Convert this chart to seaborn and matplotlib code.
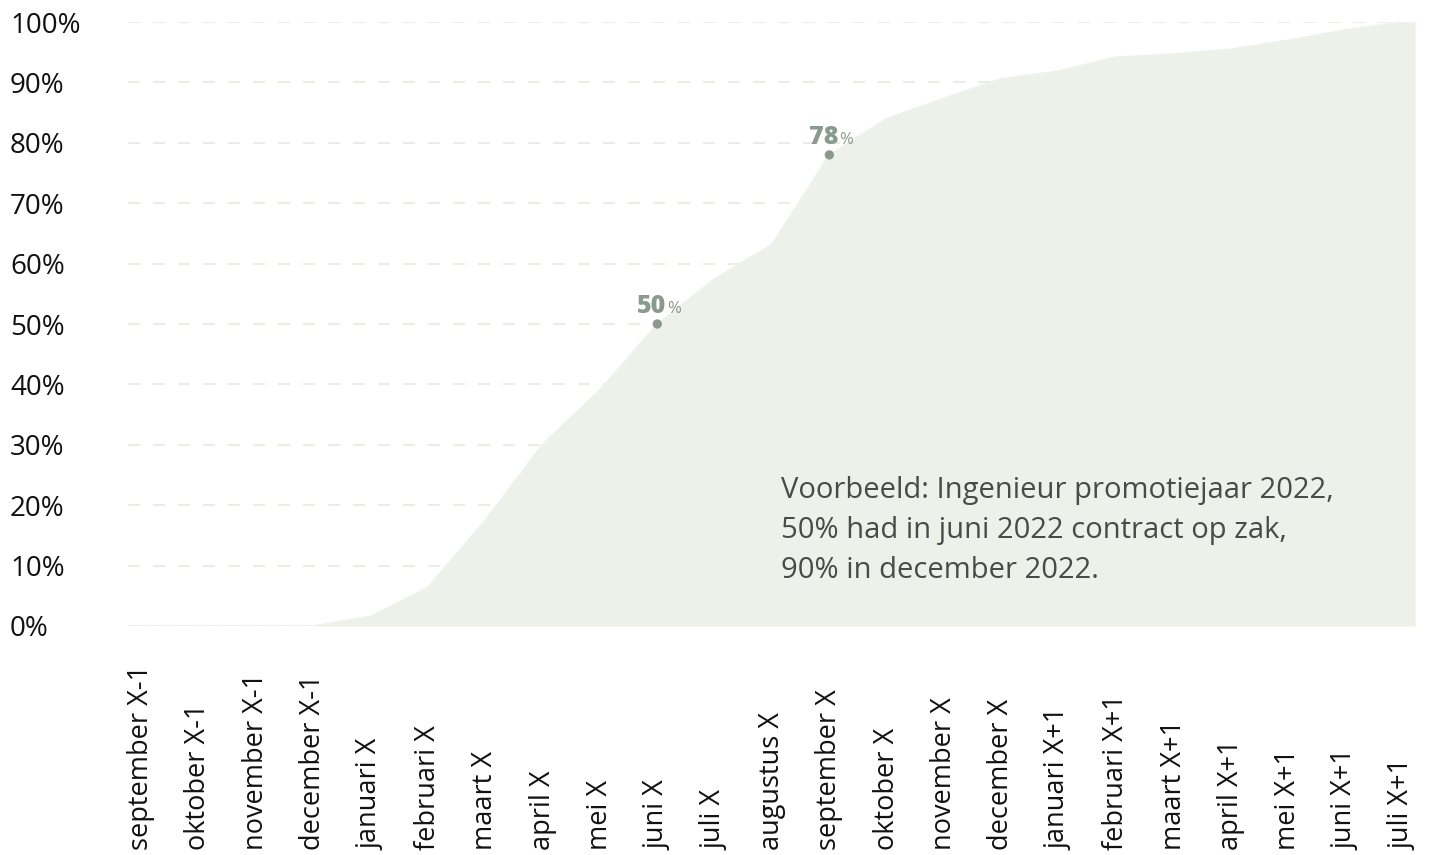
import numpy as np
import pandas as pd
import matplotlib
matplotlib.use("Agg")
import matplotlib.pyplot as plt
import seaborn as sns

months = ["september X-1", "oktober X-1", "november X-1", "december X-1",
          "januari X", "februari X", "maart X", "april X", "mei X", "juni X",
          "juli X", "augustus X", "september X", "oktober X", "november X",
          "december X", "januari X+1", "februari X+1", "maart X+1",
          "april X+1", "mei X+1", "juni X+1", "juli X+1"]
share = [0, 0, 0, 0, 1.6, 6.4, 17.5, 30.1, 39.1, 50, 57.5, 63.2, 78,
         84.0, 87.4, 90.6, 91.9, 94.2, 94.7, 95.5, 97.0, 98.7, 100]
yticks = [0, 10, 20, 30, 40, 50, 60, 70, 80, 90, 100]
ytick_labels = [f"{v}%" for v in yticks]
highlight_months = ["juni X", "september X"]
note = ("Voorbeeld: Ingenieur promotiejaar 2022,\n"
        "50% had in juni 2022 contract op zak,\n"
        "90% in december 2022.")

sns.set_theme(style="white")
plt.rcParams["font.family"] = ["Open Sans", "DejaVu Sans"]
plt.rcParams["lines.scale_dashes"] = False

FILL = "#edf1e9"
GRID = "#e9ede5"
ACCENT = "#8a9a8f"

df = pd.DataFrame({"month": months, "share": share})
df["idx"] = np.arange(len(df))

fig = plt.figure(figsize=(14.32, 8.55), dpi=100)
ax = fig.add_axes([128 / 1432, 1 - 626 / 855, (1415 - 128) / 1432, (626 - 22) / 855])

xlim = (-0.227, len(df) - 1 + 0.21)
ax.set_xlim(*xlim)
ax.set_ylim(0, 100)

# grid
ax.set_axisbelow(True)
ax.set_yticks(yticks)
ax.yaxis.grid(True, color=GRID, linewidth=1.5, linestyle=(0, (8.6, 9.4)))
ax.xaxis.grid(False)

# area
xf = np.r_[xlim[0], df["idx"].values, xlim[1]]
yf = np.r_[df["share"].values[0], df["share"].values, df["share"].values[-1]]
ax.fill_between(xf, 0, yf, color=FILL, linewidth=0, zorder=1)
sns.lineplot(data=df, x="idx", y="share", ax=ax, color=FILL, linewidth=1, zorder=2)

# highlighted points
hl = df[df["month"].isin(highlight_months)]
sns.scatterplot(data=hl, x="idx", y="share", ax=ax, color=ACCENT, s=45,
                edgecolor="none", zorder=3)
for _, r in hl.iterrows():
    ax.annotate(f"{r['share']:.0f}", (r["idx"], r["share"]), xytext=(6.5, 8),
                textcoords="offset points", ha="right", va="baseline",
                fontsize=18, fontweight="heavy", color=ACCENT,
                family=["Open Sans", "DejaVu Sans"], zorder=4)
    ax.annotate("%", (r["idx"], r["share"]), xytext=(6.8, 8),
                textcoords="offset points", ha="left", va="baseline",
                fontsize=12, color=ACCENT,
                family=["Open Sans", "DejaVu Sans"], zorder=4)

# ticks
ax.set_xticks(df["idx"])
ax.set_xticklabels(df["month"], rotation=90)
ax.set_yticklabels(ytick_labels)
ax.tick_params(axis="x", length=0, pad=161, labelsize=19.5, colors="#111111")
ax.tick_params(axis="y", length=0, pad=85, labelsize=20, colors="#111111")
for lab in ax.get_xticklabels():
    lab.set_va("bottom")
for lab in ax.get_yticklabels():
    lab.set_ha("left")

for s in ax.spines.values():
    s.set_visible(False)
ax.set_xlabel("")
ax.set_ylabel("")

ax.text((781 - 128) / 1287, (626 - 476) / 604, note, transform=ax.transAxes,
        ha="left", va="top", fontsize=21, color="#4a4a4a", linespacing=1.5,
        family=["Open Sans", "DejaVu Sans"], zorder=5)

fig.savefig("out.png", dpi=100)
